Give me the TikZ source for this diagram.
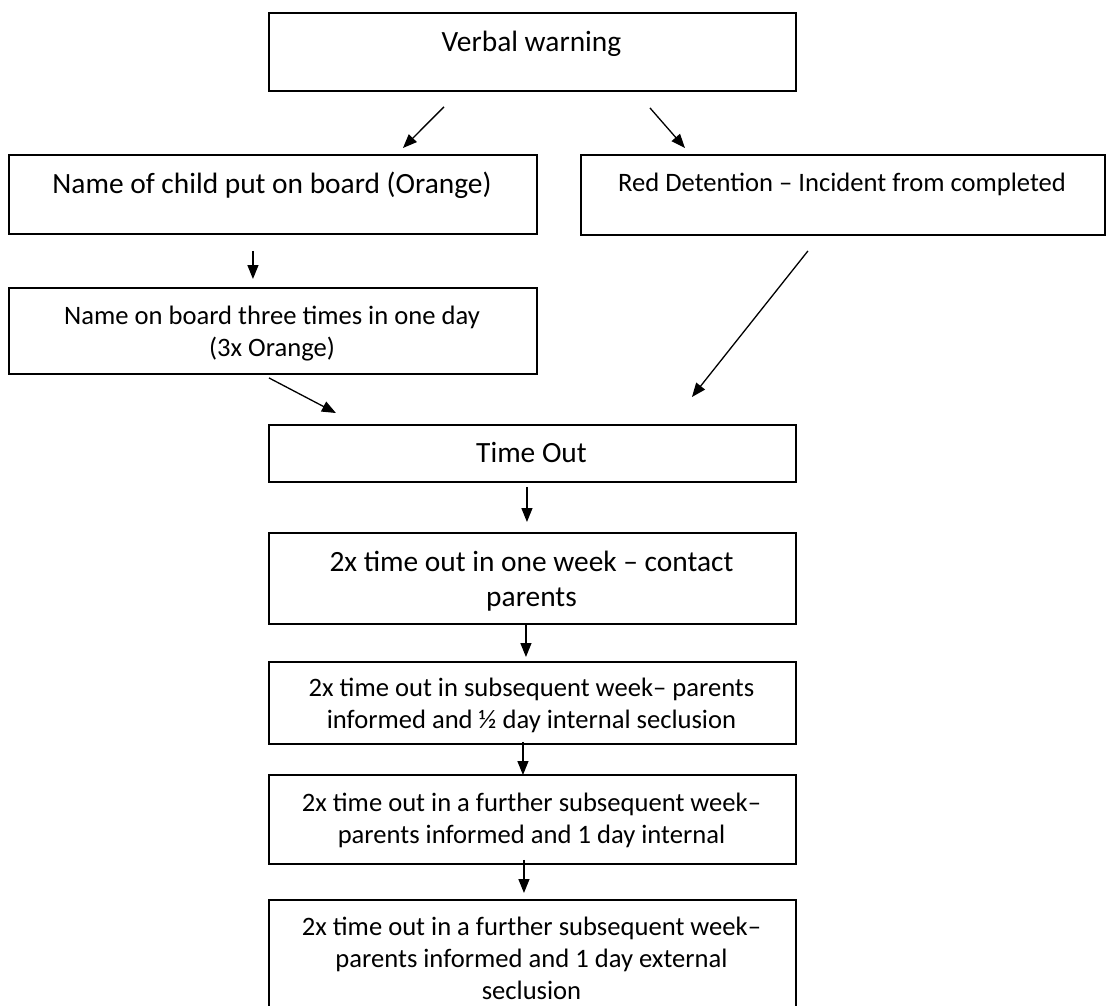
\documentclass[tikz,border=0pt]{standalone}
\usepackage{fontspec}
\setmainfont{Carlito}
\usetikzlibrary{arrows.meta,calc}
\begin{document}
\begin{tikzpicture}[x=1pt,y=-1pt,
  box/.style={draw, line width=1.9pt, inner sep=0pt, anchor=north west},
  big/.style={font=\fontsize{29.4}{35.5}\selectfont, align=center, inner sep=0pt, anchor=north},
  small/.style={font=\fontsize{26.6}{32}\selectfont, align=center, inner sep=0pt, anchor=north},
  arr/.style={line width=1.3pt, -{Triangle[length=14pt,width=11pt]}}]
\useasboundingbox (0,0) rectangle (1106,1005);
\clip (0,0) rectangle (1106,1005);
% boxes
\node[box, minimum width=527pt, minimum height=78pt] (vw) at (268,12) {};
\node[box, minimum width=528pt, minimum height=79pt] (noc) at (8,154) {};
\node[box, minimum width=524pt, minimum height=80pt] (red) at (580,154) {};
\node[box, minimum width=528pt, minimum height=86pt] (nob) at (8,287) {};
\node[box, minimum width=527pt, minimum height=57pt] (to) at (268,424) {};
\node[box, minimum width=527pt, minimum height=91pt] (w1) at (268,532) {};
\node[box, minimum width=527pt, minimum height=82pt] (w2) at (268,661) {};
\node[box, minimum width=527pt, minimum height=89pt] (w3) at (268,774) {};
\node[box, minimum width=527pt, minimum height=130pt] (w4) at (268,899) {};
% texts
\node[big] (vwt) at (531.5,26) {\strut Verbal warning};
\node[big] (noct) at (272,168) {\strut Name of child put on board (Orange)};
\node[small] (redt) at (842,168.6) {\strut Red Detention – Incident from completed};
\node[small] (nobt) at (272,301.6) {\strut Name on board three times in one day\\(3x Orange)};
\node[big] (tot) at (531.5,437) {\strut Time Out};
\node[big] (w1t) at (531.5,546) {\strut 2x time out in one week – contact\\parents};
\node[small] (w2t) at (531.5,673.6) {\strut 2x time out in subsequent week– parents\\informed and ½ day internal seclusion};
\node[small] (w3t) at (531.5,788.6) {\strut 2x time out in a further subsequent week–\\parents informed and 1 day internal};
\node[small] (w4t) at (531.5,912.6) {\strut 2x time out in a further subsequent week–\\parents informed and 1 day external\\seclusion};
% arrows
\draw[arr] ($(vw.south)+(-88.5,15)$) -- ($(noc.north)+(130,-6)$);
\draw[arr] ($(vw.south)+(117.5,16)$) -- ($(red.north)+(-158,-6)$);
\draw[arr] ($(noc.south)+(-20,16)$) -- ($(nob.north)+(-20,-8)$);
\draw[arr] ($(nob.south)+(-4,3)$) -- ($(to.north)+(-196.5,-11)$);
\draw[arr] ($(red.south)+(-35,15)$) -- ($(to.north)+(159.5,-27)$);
\draw[arr] ($(to.south)+(-5.5,4)$) -- ($(w1.north)+(-5.5,-10)$);
\draw[arr] ($(w1.south)+(-6.5,-1)$) -- ($(w2.north)+(-6.5,-4)$);
\draw[arr] ($(w2.south)+(-9.5,-3)$) -- ($(w3.north)+(-9.5,1)$);
\draw[arr] ($(w3.south)+(-8.5,-5)$) -- ($(w4.north)+(-8.5,-6)$);
\end{tikzpicture}
\end{document}
